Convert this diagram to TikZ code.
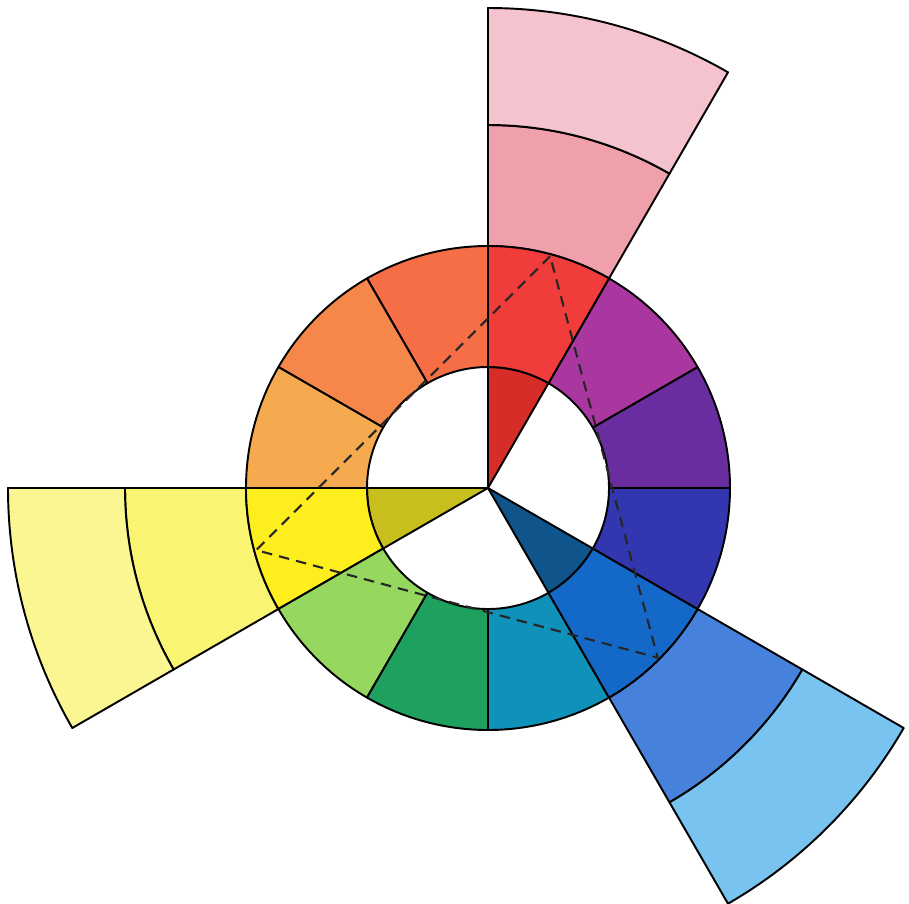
\documentclass[tikz,border=0pt]{standalone}
\definecolor{ro}{RGB}{245,110,70}
\definecolor{or}{RGB}{245,135,75}
\definecolor{yo}{RGB}{245,170,80}
\definecolor{ye}{RGB}{255,238,30}
\definecolor{lg}{RGB}{150,215,95}
\definecolor{gr}{RGB}{30,160,95}
\definecolor{te}{RGB}{15,145,185}
\definecolor{bm}{RGB}{20,105,200}
\definecolor{bl}{RGB}{50,55,175}
\definecolor{vi}{RGB}{105,45,160}
\definecolor{ma}{RGB}{170,55,160}
\definecolor{re}{RGB}{240,60,58}
\definecolor{reD}{RGB}{215,45,40}
\definecolor{reA}{RGB}{240,160,170}
\definecolor{reB}{RGB}{245,195,205}
\definecolor{yeD}{RGB}{200,190,30}
\definecolor{yeA}{RGB}{250,244,115}
\definecolor{yeB}{RGB}{250,246,145}
\definecolor{bmD}{RGB}{15,85,140}
\definecolor{bmA}{RGB}{70,130,220}
\definecolor{bmB}{RGB}{120,195,240}
\begin{document}
\begin{tikzpicture}[line width=.55pt,line join=round]
\useasboundingbox (-4.88,-4.15) rectangle (4.21,4.88);
% primaries: centre wedge and two tints outside the ring
\foreach \a/\cd/\ca/\cb[evaluate=\a as \b using \a+30] in {60/reD/reA/reB,180/yeD/yeA/yeB,300/bmD/bmA/bmB}{
	\draw[fill=\cd] (0,0)--(\a:1.21) arc[start angle=\a,delta angle=30,radius=1.21]--cycle;
	\draw[fill=\ca] (\a:2.42) arc[start angle=\a,delta angle=30,radius=2.42]--(\b:3.63) arc[start angle=\b,delta angle=-30,radius=3.63]--cycle;
	\draw[fill=\cb] (\a:3.63) arc[start angle=\a,delta angle=30,radius=3.63]--(\b:4.8) arc[start angle=\b,delta angle=-30,radius=4.8]--cycle;
}
% the twelve hues
\foreach \a/\c[evaluate=\a as \b using \a+30] in {90/ro,120/or,150/yo,180/ye,210/lg,240/gr,270/te,300/bm,330/bl,0/vi,30/ma,60/re}
	\draw[fill=\c] (\a:1.21) arc[start angle=\a,delta angle=30,radius=1.21]--(\b:2.42) arc[start angle=\b,delta angle=-30,radius=2.42]--cycle;
\foreach \n/\a in {vR/75,vY/195,vB/315}\coordinate (\n) at (\a:2.4);
\draw[gray!30!black,line width=.6pt,dash pattern=on 3pt off 2pt] (vR)--(vY)--(vB)--cycle;
\end{tikzpicture}
\end{document}
